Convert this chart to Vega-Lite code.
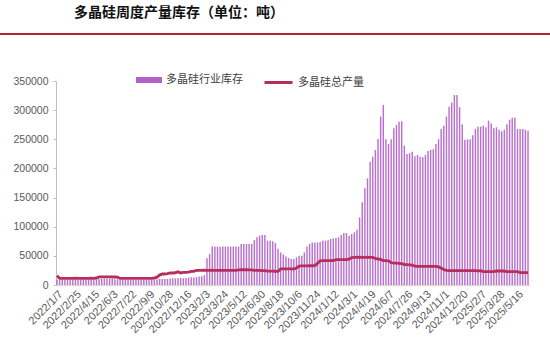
{
 "$schema": "https://vega.github.io/schema/vega-lite/v6.json",
 "background": "white",
 "padding": {"left": 0, "top": 6, "right": 0, "bottom": 0},
 "bounds": "flush",
 "center": true,
 "spacing": 46,
 "config": {
  "view": {"stroke": null},
  "font": "Noto Sans CJK SC",
  "axis": {"labelFont": "Liberation Sans", "labelColor": "#595959", "labelFontSize": 10.5, "title": null, "grid": false}
 },
 "vconcat": [
  {
   "title": {"text": "多晶硅周度产量库存（单位：吨）", "anchor": "start", "dx": 74, "offset": 11, "fontSize": 14, "font": "Noto Sans CJK SC", "fontWeight": "bold", "color": "#111111"},
   "width": 585,
   "height": 2,
   "view": {"stroke": null, "fill": "#B8232B"},
   "data": {"values": [{}]},
   "mark": {"type": "point", "opacity": 0}
  },
  {
   "width": 473,
   "height": 204,
   "data": {"values": [
{"d":"2022/1/7","inv":9300,"prod":16000},{"d":"2022/1/14","inv":9000,"prod":11500},{"d":"2022/1/21","inv":8900,"prod":11500},{"d":"2022/1/28","inv":9100,"prod":11500},{"d":"2022/2/4","inv":9000,"prod":11400},{"d":"2022/2/11","inv":9200,"prod":11500},{"d":"2022/2/18","inv":9000,"prod":11500},{"d":"2022/2/25","inv":8800,"prod":11600},{"d":"2022/3/4","inv":9000,"prod":11500},{"d":"2022/3/11","inv":9100,"prod":11500},{"d":"2022/3/18","inv":9000,"prod":11400},{"d":"2022/3/25","inv":8900,"prod":11500},{"d":"2022/4/1","inv":9000,"prod":11500},{"d":"2022/4/8","inv":9200,"prod":11600},{"d":"2022/4/15","inv":9300,"prod":11500},{"d":"2022/4/22","inv":9500,"prod":12000},
{"d":"2022/4/29","inv":10500,"prod":13800},{"d":"2022/5/6","inv":10800,"prod":13800},{"d":"2022/5/13","inv":11000,"prod":13900},{"d":"2022/5/20","inv":10800,"prod":13800},{"d":"2022/5/27","inv":10500,"prod":13800},{"d":"2022/6/3","inv":10300,"prod":13700},{"d":"2022/6/10","inv":10000,"prod":13800},{"d":"2022/6/17","inv":9800,"prod":13500},
{"d":"2022/6/24","inv":9200,"prod":11300},{"d":"2022/7/1","inv":9000,"prod":11300},{"d":"2022/7/8","inv":8800,"prod":11300},{"d":"2022/7/15","inv":8700,"prod":11200},{"d":"2022/7/22","inv":8600,"prod":11300},{"d":"2022/7/29","inv":8700,"prod":11300},{"d":"2022/8/5","inv":8600,"prod":11300},{"d":"2022/8/12","inv":8500,"prod":11200},{"d":"2022/8/19","inv":8600,"prod":11300},{"d":"2022/8/26","inv":8700,"prod":11300},{"d":"2022/9/2","inv":8600,"prod":11300},{"d":"2022/9/9","inv":8800,"prod":11300},{"d":"2022/9/16","inv":8700,"prod":11400},{"d":"2022/9/23","inv":8900,"prod":12000},
{"d":"2022/9/30","inv":10000,"prod":13500},{"d":"2022/10/7","inv":10300,"prod":17000},{"d":"2022/10/14","inv":10500,"prod":18900},{"d":"2022/10/21","inv":10300,"prod":18900},{"d":"2022/10/28","inv":10400,"prod":19500},{"d":"2022/11/4","inv":11000,"prod":20600},{"d":"2022/11/11","inv":11500,"prod":20600},{"d":"2022/11/18","inv":11300,"prod":21000},{"d":"2022/11/25","inv":11600,"prod":22800},{"d":"2022/12/2","inv":11800,"prod":20600},{"d":"2022/12/9","inv":11500,"prod":21500},{"d":"2022/12/16","inv":12000,"prod":21800},{"d":"2022/12/23","inv":12800,"prod":22000},{"d":"2022/12/30","inv":13200,"prod":23500},
{"d":"2023/1/6","inv":13000,"prod":23500},{"d":"2023/1/13","inv":13500,"prod":25000},{"d":"2023/1/20","inv":14500,"prod":25200},{"d":"2023/1/27","inv":15000,"prod":25200},{"d":"2023/2/3","inv":17000,"prod":25300},{"d":"2023/2/10","inv":45800,"prod":25200},{"d":"2023/2/17","inv":53000,"prod":25200},{"d":"2023/2/24","inv":66000,"prod":25300},{"d":"2023/3/3","inv":66000,"prod":25200},{"d":"2023/3/10","inv":66000,"prod":25200},{"d":"2023/3/17","inv":65800,"prod":25100},{"d":"2023/3/24","inv":66000,"prod":25200},{"d":"2023/3/31","inv":66000,"prod":25200},{"d":"2023/4/7","inv":66200,"prod":25200},{"d":"2023/4/14","inv":66000,"prod":25100},{"d":"2023/4/21","inv":66000,"prod":25200},{"d":"2023/4/28","inv":66000,"prod":25200},
{"d":"2023/5/5","inv":66000,"prod":26000},{"d":"2023/5/12","inv":70300,"prod":26200},{"d":"2023/5/19","inv":70300,"prod":26200},{"d":"2023/5/26","inv":70500,"prod":26200},{"d":"2023/6/2","inv":70300,"prod":26100},{"d":"2023/6/9","inv":70300,"prod":26000},{"d":"2023/6/16","inv":77000,"prod":25000},{"d":"2023/6/23","inv":82000,"prod":25000},{"d":"2023/6/30","inv":84600,"prod":25000},{"d":"2023/7/7","inv":85800,"prod":24800},{"d":"2023/7/14","inv":85800,"prod":24800},{"d":"2023/7/21","inv":76000,"prod":23800},{"d":"2023/7/28","inv":76000,"prod":23800},{"d":"2023/8/4","inv":75000,"prod":23800},{"d":"2023/8/11","inv":72000,"prod":23600},{"d":"2023/8/18","inv":62000,"prod":23500},
{"d":"2023/8/25","inv":56000,"prod":27500},{"d":"2023/9/1","inv":52600,"prod":27500},{"d":"2023/9/8","inv":49000,"prod":27600},{"d":"2023/9/15","inv":46300,"prod":27500},{"d":"2023/9/22","inv":44600,"prod":27700},{"d":"2023/9/29","inv":44600,"prod":27500},{"d":"2023/10/6","inv":47500,"prod":29000},{"d":"2023/10/13","inv":50300,"prod":32500},{"d":"2023/10/20","inv":50300,"prod":32800},{"d":"2023/10/27","inv":56000,"prod":32800},{"d":"2023/11/3","inv":66000,"prod":32800},{"d":"2023/11/10","inv":70300,"prod":33000},{"d":"2023/11/17","inv":73000,"prod":33000},{"d":"2023/11/24","inv":73000,"prod":33100},
{"d":"2023/12/1","inv":73000,"prod":37000},{"d":"2023/12/8","inv":73800,"prod":41500},{"d":"2023/12/15","inv":76000,"prod":41700},{"d":"2023/12/22","inv":76000,"prod":41700},{"d":"2023/12/29","inv":76800,"prod":41800},{"d":"2024/1/5","inv":79000,"prod":41700},{"d":"2024/1/12","inv":80000,"prod":42000},{"d":"2024/1/19","inv":80500,"prod":43400},{"d":"2024/1/26","inv":81800,"prod":43500},{"d":"2024/2/2","inv":85800,"prod":43500},{"d":"2024/2/9","inv":89200,"prod":43600},{"d":"2024/2/16","inv":89200,"prod":43500},{"d":"2024/2/23","inv":84600,"prod":44500},
{"d":"2024/3/1","inv":87500,"prod":47000},{"d":"2024/3/8","inv":90400,"prod":47500},{"d":"2024/3/15","inv":95000,"prod":47500},{"d":"2024/3/22","inv":116000,"prod":47600},{"d":"2024/3/29","inv":142000,"prod":47500},{"d":"2024/4/5","inv":166000,"prod":47500},{"d":"2024/4/12","inv":183000,"prod":47600},{"d":"2024/4/19","inv":211500,"prod":47500},{"d":"2024/4/26","inv":220000,"prod":47400},{"d":"2024/5/3","inv":231600,"prod":45500},{"d":"2024/5/10","inv":250500,"prod":44600},{"d":"2024/5/17","inv":289000,"prod":44000},{"d":"2024/5/24","inv":309000,"prod":41800},{"d":"2024/5/31","inv":250000,"prod":41700},{"d":"2024/6/7","inv":242000,"prod":41500},
{"d":"2024/6/14","inv":250000,"prod":38500},{"d":"2024/6/21","inv":269000,"prod":37700},{"d":"2024/6/28","inv":274500,"prod":37500},{"d":"2024/7/5","inv":280000,"prod":37000},{"d":"2024/7/12","inv":281000,"prod":36500},{"d":"2024/7/19","inv":239000,"prod":35000},{"d":"2024/7/26","inv":224700,"prod":34800},{"d":"2024/8/2","inv":226500,"prod":34500},{"d":"2024/8/9","inv":228700,"prod":34000},{"d":"2024/8/16","inv":220800,"prod":32200},{"d":"2024/8/23","inv":223000,"prod":32000},{"d":"2024/8/30","inv":220000,"prod":32000},{"d":"2024/9/6","inv":219000,"prod":32000},{"d":"2024/9/13","inv":223000,"prod":32100},{"d":"2024/9/20","inv":230000,"prod":32000},{"d":"2024/9/27","inv":232000,"prod":32000},{"d":"2024/10/4","inv":233000,"prod":31900},{"d":"2024/10/11","inv":242000,"prod":32000},{"d":"2024/10/18","inv":250000,"prod":31000},{"d":"2024/10/25","inv":267600,"prod":29000},
{"d":"2024/11/1","inv":273300,"prod":26500},{"d":"2024/11/8","inv":289000,"prod":25000},{"d":"2024/11/15","inv":306000,"prod":24500},{"d":"2024/11/22","inv":313000,"prod":24500},{"d":"2024/11/29","inv":326000,"prod":24600},{"d":"2024/12/6","inv":326000,"prod":24500},{"d":"2024/12/13","inv":305000,"prod":24500},{"d":"2024/12/20","inv":276000,"prod":24600},{"d":"2024/12/27","inv":249000,"prod":24500},{"d":"2025/1/3","inv":250000,"prod":24500},{"d":"2025/1/10","inv":250000,"prod":24600},{"d":"2025/1/17","inv":257000,"prod":24500},{"d":"2025/1/24","inv":267600,"prod":24500},{"d":"2025/1/31","inv":271600,"prod":24400},{"d":"2025/2/7","inv":271600,"prod":24500},
{"d":"2025/2/14","inv":273300,"prod":23000},{"d":"2025/2/21","inv":270600,"prod":22900},{"d":"2025/2/28","inv":282000,"prod":23000},{"d":"2025/3/7","inv":277000,"prod":23000},{"d":"2025/3/14","inv":269000,"prod":23100},{"d":"2025/3/21","inv":270600,"prod":24000},{"d":"2025/3/28","inv":266500,"prod":24000},{"d":"2025/4/4","inv":263700,"prod":24100},{"d":"2025/4/11","inv":266500,"prod":24000},{"d":"2025/4/18","inv":276000,"prod":23000},{"d":"2025/4/25","inv":283600,"prod":23000},{"d":"2025/5/2","inv":287000,"prod":22900},{"d":"2025/5/9","inv":287000,"prod":23000},{"d":"2025/5/16","inv":267600,"prod":23000},{"d":"2025/5/23","inv":267600,"prod":21300},{"d":"2025/5/30","inv":267600,"prod":21200},{"d":"2025/6/6","inv":266500,"prod":21200},{"d":"2025/6/13","inv":264800,"prod":21000}
   ]},
   "encoding": {
    "x": {"field": "d", "type": "ordinal", "sort": null,
     "scale": {"paddingInner": 0.45, "paddingOuter": 0.1},
     "axis": {"values": ["2022/1/7","2022/2/25","2022/4/15","2022/6/3","2022/7/22","2022/9/9","2022/10/28","2022/12/16","2023/2/3","2023/3/24","2023/5/12","2023/6/30","2023/8/18","2023/10/6","2023/11/24","2024/1/12","2024/3/1","2024/4/19","2024/6/7","2024/7/26","2024/9/13","2024/11/1","2024/12/20","2025/2/7","2025/3/28","2025/5/16"],
      "labelAngle": -45, "labelOverlap": false, "labelFontSize": 11, "ticks": false, "domainColor": "#D9D9D9", "domainWidth": 1.5, "labelPadding": 3}}
   },
   "layer": [
    {
     "mark": {"type": "bar", "opacity": 0.9},
     "encoding": {
      "y": {"field": "inv", "type": "quantitative",
       "scale": {"domain": [0, 350000], "nice": false},
       "axis": {"values": [0,50000,100000,150000,200000,250000,300000,350000], "format": "d", "labelOverlap": false, "domainColor": "#BFBFBF", "tickColor": "#BFBFBF", "tickSize": 3, "labelPadding": 5}},
      "fill": {"datum": "多晶硅行业库存", "type": "nominal",
       "scale": {"range": ["#B062C6"]},
       "legend": {"orient": "none", "legendX": 136, "legendY": 34, "title": null, "direction": "horizontal",
        "symbolType": "M-1,-0.23H1V0.23H-1Z", "symbolSize": 676, "symbolStrokeWidth": 0, "symbolOpacity": 1,
        "labelFont": "Noto Sans CJK SC", "labelFontSize": 11, "labelColor": "#404040", "labelOffset": 4}}
     }
    },
    {
     "mark": {"type": "line", "strokeWidth": 2.8},
     "encoding": {
      "y": {"field": "prod", "type": "quantitative",
       "axis": {"values": [0,50000,100000,150000,200000,250000,300000,350000], "format": "d", "labelOverlap": false, "domainColor": "#BFBFBF", "tickColor": "#BFBFBF", "tickSize": 3, "labelPadding": 5}},
      "stroke": {"datum": "多晶硅总产量", "type": "nominal",
       "scale": {"range": ["#B72D5C"]},
       "legend": {"orient": "none", "legendX": 263, "legendY": 34, "title": null, "direction": "horizontal",
        "symbolType": "stroke", "symbolSize": 784, "symbolStrokeWidth": 3,
        "labelFont": "Noto Sans CJK SC", "labelFontSize": 11, "labelColor": "#404040", "labelOffset": 4}}
     }
    }
   ]
  }
 ]
}
